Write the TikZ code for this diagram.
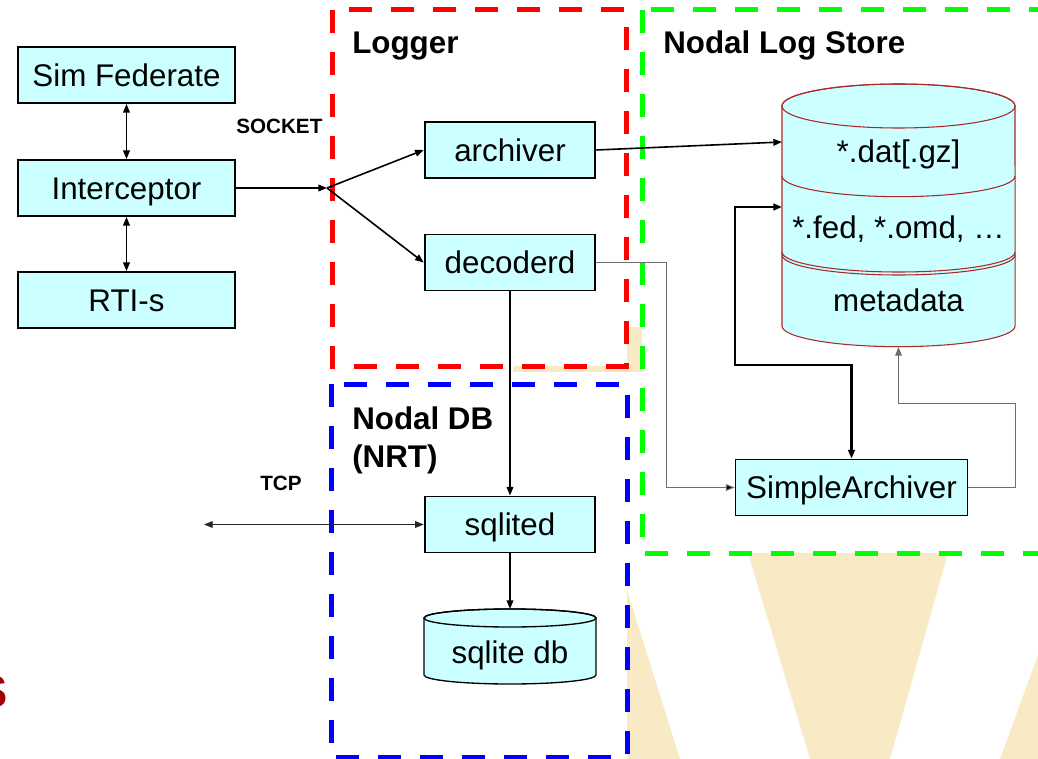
\documentclass[tikz,border=0pt]{standalone}
\usepackage{fontspec}
\setmainfont{Liberation Sans}
\usetikzlibrary{arrows.meta}
\definecolor{boxfill}{RGB}{204,255,255}
\definecolor{wmtan}{RGB}{249,234,198}
\definecolor{cylred}{RGB}{170,40,40}
\definecolor{titlered}{RGB}{165,0,0}
\definecolor{dashred}{RGB}{255,0,0}
\definecolor{dashgreen}{RGB}{0,255,0}
\definecolor{dashblue}{RGB}{0,0,255}
\definecolor{linegray}{RGB}{110,110,110}
\begin{document}
\begin{tikzpicture}[x=0.75pt,y=-0.75pt,
  >={Triangle[length=6.5pt,width=5pt]},
  grpbox/.style={line width=3.75pt, dash pattern=on 17pt off 14.5pt, fill=white},
  proc/.style={draw=black, line width=1.4pt, fill=boxfill, minimum height=42pt,
    inner sep=0pt, text height=16.6pt, text depth=0pt, font=\fontsize{23.5}{28}\selectfont},
  cyltext/.style={inner sep=0pt, text height=16.6pt, text depth=0pt, font=\fontsize{23.5}{28}\selectfont},
  grplbl/.style={inner sep=0pt, font=\bfseries\fontsize{23.5}{28.5}\selectfont},
  smalllbl/.style={inner sep=0pt, font=\bfseries\fontsize{15.5}{18}\selectfont},
  conn/.style={draw=black, line width=1.2pt},
  thinconn/.style={draw=black!85, line width=0.8pt},
  grayconn/.style={draw=linegray, line width=0.75pt},
  thickconn/.style={draw=black, line width=1.7pt},
  cylline/.style={draw=cylred, line width=0.8pt}
]
\useasboundingbox (0,0) rectangle (1038,759);
\clip (0,0) rectangle (1038,759);
\fill[white] (0,0) rectangle (1038,759);

% background watermark
\fill[wmtan] (748,553) -- (948,553) -- (890,759) -- (810,759) -- cycle;
\fill[wmtan] (627,590) -- (680,759) -- (627,759) -- cycle;
\fill[wmtan] (1038,655) -- (1038,759) -- (1000,759) -- cycle;
\fill[wmtan] (627,327) rectangle (642,368);
\fill[wmtan] (513,366) rectangle (642,372);
\node[anchor=base east, inner sep=0pt, text=titlered, font=\bfseries\fontsize{34}{40}\selectfont] (stitle) at (8,707) {S};

% group boxes
\draw[grpbox, draw=dashred] (332,10) rectangle (626,366);
\draw[grpbox, draw=dashgreen] (642,10) rectangle (1060,553);
\draw[grpbox, draw=dashblue] (331,384) rectangle (627,757);

\node[grplbl, anchor=base west] (loggerlbl) at (352,54) {Logger};
\node[grplbl, anchor=base west] (storelbl) at (663,54) {Nodal Log Store};
\node[grplbl, anchor=north west, align=left] (dblbl) at (352,407) {Nodal DB\\(NRT)};
\node[smalllbl, anchor=base west] (socket) at (236,134) {SOCKET};
\node[smalllbl, anchor=base west] (tcp) at (260,490) {TCP};

% process boxes
\node[proc, minimum width=163pt] (simfed) at (126.5,75) {Sim Federate};
\node[proc, minimum width=163pt] (intc) at (126.5,188) {Interceptor};
\node[proc, minimum width=163pt] (rti) at (126.5,300) {RTI-s};
\node[proc, minimum width=128pt] (arch) at (510,150) {archiver};
\node[proc, minimum width=128pt] (dec) at (510,262.5) {decoderd};
\node[proc, minimum width=128pt] (sqld) at (510,524.5) {sqlited};
\node[proc, minimum width=174pt] (simple) at (851.5,487.5) {SimpleArchiver};

% log store cylinder
\filldraw[fill=boxfill, cylline] (782,106) -- (782,326)
  arc[start angle=180, end angle=360, x radius=87.4pt, y radius=15.5pt]
  -- (1015,106)
  arc[start angle=0, end angle=180, x radius=87.4pt, y radius=16.5pt] -- cycle;
\draw[cylline] (898.5,106) ellipse [x radius=87.4pt, y radius=16.5pt];
\draw[cylline] (782,176) arc[start angle=180, end angle=360, x radius=87.4pt, y radius=15.5pt];
\draw[cylline] (782,252) arc[start angle=180, end angle=360, x radius=87.4pt, y radius=15pt];
\draw[cylline] (782,255) arc[start angle=180, end angle=360, x radius=87.4pt, y radius=15pt];
\node[cyltext] (dat) at (898.5,151) {*.dat[.gz]};
\node[cyltext] (fed) at (898.5,227) {*.fed, *.omd, …};
\node[cyltext] (meta) at (898.5,300) {metadata};
\coordinate (datin) at (782,142);
\coordinate (fedin) at (782,207);
\coordinate (metain) at (898.5,347);

% sqlite db cylinder
\filldraw[fill=boxfill, draw=black, line width=1pt] (424,618) -- (424,675)
  arc[start angle=180, end angle=360, x radius=64.5pt, y radius=6.75pt]
  -- (596,618)
  arc[start angle=0, end angle=180, x radius=64.5pt, y radius=6.75pt] -- cycle;
\draw[black, line width=1pt] (510,618) ellipse [x radius=64.5pt, y radius=6.75pt];
\node[cyltext] (sqldb) at (510,652) {sqlite db};
\coordinate (sqldbtop) at (510,609);

% connectors
\coordinate (jn) at (327,188);
\coordinate (tcpend) at (204,524.5);
\draw[conn,<->] (simfed) -- (intc);
\draw[conn,<->] (intc) -- (rti);
\draw[conn,->] (intc.east) -- (jn);
\draw[conn,->] (jn) -- (arch.west);
\draw[conn,->] (jn) -- (dec.west);
\draw[conn,->] (arch.east) -- (datin);
\draw[conn,->] (dec.south) -- (sqld.north);
\draw[conn,->] (sqld.south) -- (sqldbtop);
\draw[thinconn,<->] (tcpend) -- (sqld.west);
\draw[grayconn,->,>={Triangle[length=6.5pt,width=5pt,fill=black]}] (dec.east) -- ++(70,0) |- (simple.west);
\draw[thickconn,<->] (simple.north) |- (735,365) |- (fedin);
\draw[grayconn,->] (simple.east) -| (1015,403) -| (metain);
\end{tikzpicture}
\end{document}
